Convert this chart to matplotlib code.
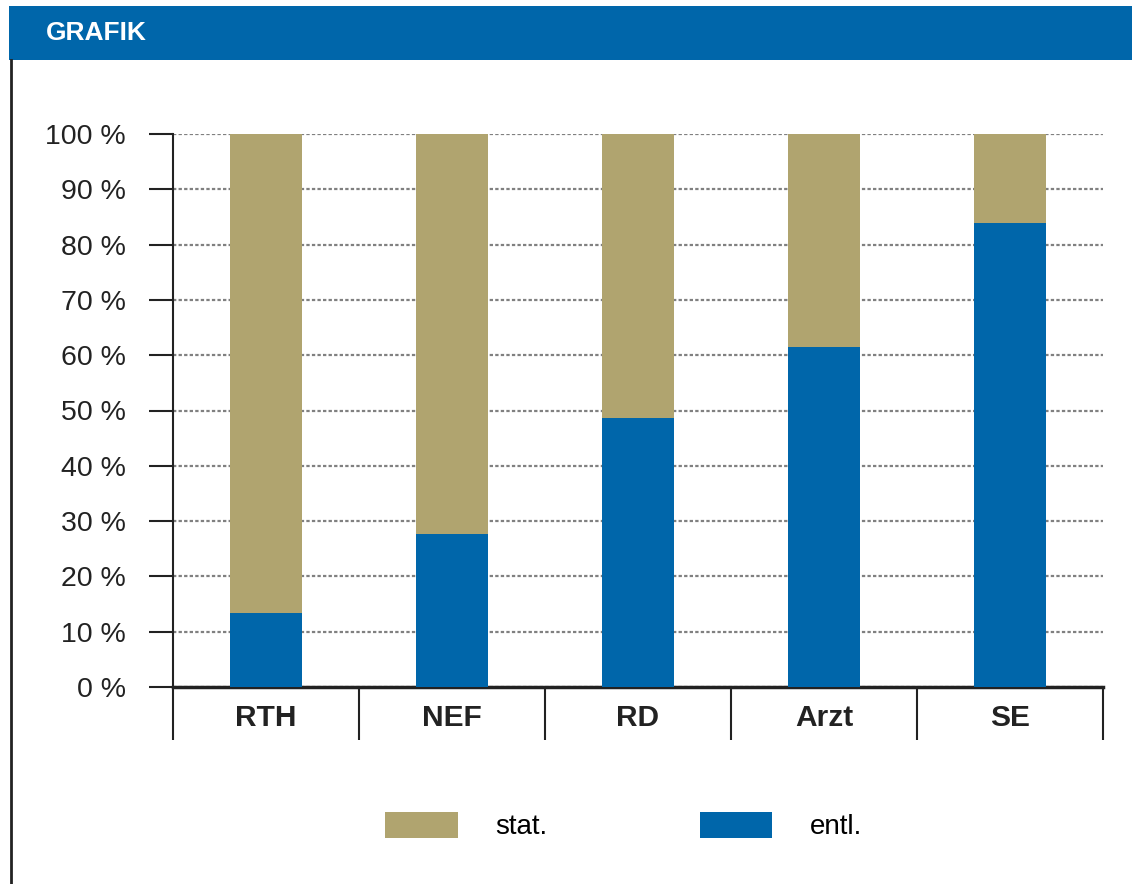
import matplotlib.pyplot as plt
from matplotlib.patches import Rectangle
import numpy as np

categories = ["RTH", "NEF", "RD", "Arzt", "SE"]
entl = [13.4, 27.7, 48.6, 61.5, 83.9]
stat = [100 - v for v in entl]
yticks = list(range(0, 101, 10))
ytick_labels = [f"{t} %" for t in yticks]

blue = "#0066AA"
tan = "#B0A46F"

plt.rcParams["font.family"] = ["Liberation Sans", "DejaVu Sans"]

fig = plt.figure(figsize=(11.32, 8.84), dpi=100)

# header bar
fig.add_artist(Rectangle((9 / 1132, 1 - 60 / 884), 1 - 9 / 1132, 54 / 884,
                         transform=fig.transFigure, color=blue, lw=0))
fig.text(46 / 1132, 1 - 33 / 884, "GRAFIK", color="white", fontsize=19,
         fontweight="bold", va="center", ha="left")
# left frame line
fig.add_artist(plt.Line2D([10.5 / 1132, 10.5 / 1132], [0, 1 - 60 / 884],
                          transform=fig.transFigure, color="#222222", lw=2))

ax = fig.add_axes([173 / 1132, 1 - 687 / 884, 930 / 1132, 553 / 884])
x = np.arange(len(categories))
ax.bar(x, entl, width=0.39, color=blue, zorder=3, label="entl.")
ax.bar(x, stat, width=0.39, bottom=entl, color=tan, zorder=3, label="stat.")

ax.set_xlim(-0.5, len(categories) - 0.5)
ax.set_ylim(0, 100)
ax.set_yticks(yticks)
ax.set_yticklabels(ytick_labels, fontsize=20.5, color="#222222")
ax.yaxis.grid(True, linestyle=(0, (1.5, 1)), color="#808080", lw=1.6, zorder=1)
ax.set_axisbelow(True)

ax.set_xticks(x)
ax.set_xticklabels(categories, fontsize=21.5, fontweight="bold", color="#222222")
ax.tick_params(axis="x", which="major", length=0, pad=12)
ax.set_xticks(np.arange(-0.5, len(categories)), minor=True)
ax.tick_params(axis="x", which="minor", length=38, width=1.5, color="#222222")
ax.tick_params(axis="y", length=17, width=1.5, color="#222222", pad=17)

for s in ["top", "right"]:
    ax.spines[s].set_visible(False)
ax.spines["left"].set_linewidth(1.5)
ax.spines["bottom"].set_linewidth(2.5)
ax.spines["left"].set_color("#222222")
ax.spines["bottom"].set_color("#222222")

# legend
handles, labels = ax.get_legend_handles_labels()
leg = fig.legend(handles[::-1], labels[::-1], loc="center", ncol=2,
                 bbox_to_anchor=(0.551, 1 - 826 / 884), frameon=False, fontsize=20,
                 handlelength=2.6, handleheight=1.1, handletextpad=1.35, columnspacing=5.5)

fig.savefig("out.png", dpi=100)
